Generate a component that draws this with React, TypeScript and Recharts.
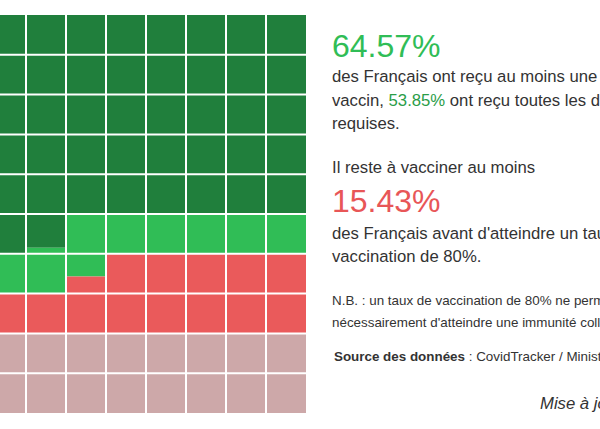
import React from 'react';
import { BarChart, Bar, XAxis, YAxis, ReferenceLine } from 'recharts';

// cumulative share of the population (%), filled cell by cell, row after row
const LEVELS = [53.85, 64.57, 80, 100];
const SERIES = ['completeDose', 'firstDose', 'toVaccinate', 'rest'];
const COLORS = ['#207f3c', '#30bd56', '#ea5a5b', '#cda8a9'];
const COLUMNS = [0, 1, 2, 3, 4, 5, 6, 7, 8, 9];
const ROWS = [0, 1, 2, 3, 4, 5, 6, 7, 8, 9];
const GRID_LINES = [1, 2, 3, 4, 5, 6, 7, 8, 9];

const clamp01 = (v: number) => Math.max(0, Math.min(1, v));

// each column is a stack of the 4 groups, top to bottom
const chartData = COLUMNS.map(c => {
  const row: Record<string, number> = { col: c };
  SERIES.forEach((key, k) => {
    const hi = LEVELS[k];
    const lo = k === 0 ? 0 : LEVELS[k - 1];
    row[key] = ROWS.reduce((sum, r) => {
      const base = r * 10 + c;
      return sum + clamp01(hi - base) - clamp01(lo - base);
    }, 0);
  });
  return row;
});

const textColor = '#333';
const font = '"Liberation Sans", Arial, Helvetica, sans-serif';

const block = (top: number, extra: React.CSSProperties = {}): React.CSSProperties => ({
  position: 'absolute',
  left: 332,
  top,
  width: 330,
  ...extra
});

export default function App() {
  return (
    <div style={{
      position: 'absolute',
      left: 0,
      top: 0,
      width: 600,
      height: 429,
      overflow: 'hidden',
      background: '#fff',
      fontFamily: font,
      color: textColor
    }}>
      <div style={{ position: 'absolute', left: -94, top: 15 }}>
        <BarChart
          width={400}
          height={398}
          data={chartData}
          margin={{ top: 0, right: 0, bottom: 0, left: 0 }}
          barCategoryGap={0}
        >
          <XAxis dataKey="col" hide />
          <YAxis type="number" domain={[0, 10]} reversed hide />
          {SERIES.map((key, k) => (
            <Bar
              key={key}
              dataKey={key}
              stackId="grid"
              fill={COLORS[k]}
              isAnimationActive={false}
            />
          ))}
          {GRID_LINES.map(v => (
            <ReferenceLine key={'y' + v} y={v} stroke="#fff" strokeWidth={2} />
          ))}
          {GRID_LINES.map(v => (
            <ReferenceLine key={'x' + v} x={v} position="start" stroke="#fff" strokeWidth={2} />
          ))}
        </BarChart>
      </div>

      <div style={block(28, { fontSize: 32, color: '#30bd56', lineHeight: '36px' })}>64.57%</div>
      <div style={block(65, { fontSize: 16.7, lineHeight: '23.5px' })}>
        des Français ont reçu au moins une dose de vaccin,{' '}
        <span style={{ color: '#2a9d48' }}>53.85%</span> ont reçu toutes les doses requises.
      </div>
      <div style={block(156, { fontSize: 16.7, lineHeight: '23.5px' })}>
        Il reste à vacciner au moins
      </div>
      <div style={block(183, { fontSize: 32, color: '#e85657', lineHeight: '36px' })}>15.43%</div>
      <div style={block(223, { fontSize: 16.7, lineHeight: '22.5px' })}>
        des Français avant d'atteindre un taux de vaccination de 80%.
      </div>
      <div style={block(290, { fontSize: 13.4, lineHeight: '22px' })}>
        N.B. : un taux de vaccination de 80% ne permet pas nécessairement d'atteindre une immunité collective.
      </div>
      <div style={block(346, { left: 334, fontSize: 13.4, lineHeight: '22px', whiteSpace: 'nowrap' })}>
        <b>Source des données</b> : CovidTracker / Ministère des Solidarités et de la Santé
      </div>

      <div style={{
        position: 'absolute',
        left: 540,
        top: 392,
        fontSize: 16.7,
        fontStyle: 'italic',
        whiteSpace: 'nowrap',
        lineHeight: '24px'
      }}>
        Mise à jour : 14/07/2021
      </div>
    </div>
  );
}
